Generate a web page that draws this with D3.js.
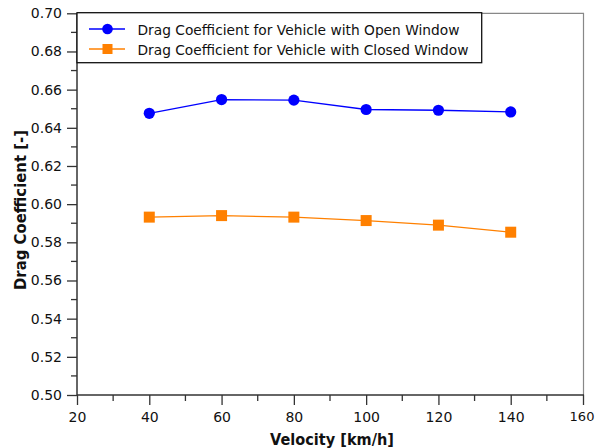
<!DOCTYPE html>
<html><head><meta charset="utf-8">
<script src="https://cdn.jsdelivr.net/npm/d3@7/dist/d3.min.js"></script>
<style>html,body{margin:0;padding:0;background:#fff;}svg{display:block;}</style>
</head><body>
<svg id="c" width="596" height="448"></svg>
<script>
const velocity = [40, 60, 80, 100, 120, 140];
const openWindow = [0.6476, 0.6548, 0.6545, 0.6496, 0.6492, 0.6483];
const closedWindow = [0.5932, 0.5940, 0.5932, 0.5914, 0.5890, 0.5853];
const seriesNames = ["Drag Coefficient for Vehicle with Open Window", "Drag Coefficient for Vehicle with Closed Window"];
const xTicks = [20, 40, 60, 80, 100, 120, 140, 160];
const yTicks = [0.50, 0.52, 0.54, 0.56, 0.58, 0.60, 0.62, 0.64, 0.66, 0.68, 0.70];
const xTitle = "Velocity [km/h]";
const yTitle = "Drag Coefficient [-]";

const L = 77, R = 583, T = 13.3, B = 395;
const svg = d3.select("#c");
const font = "'DejaVu Sans', Verdana, sans-serif";
const x = d3.scaleLinear().domain([20, 160]).range([L, R]);
const y = d3.scaleLinear().domain([0.50, 0.70]).range([B, T]);

// frame top/right
svg.append("path").attr("d", `M${L},${T}H${R+0.5}V${B}`).attr("fill", "none").attr("stroke", "#888").attr("stroke-width", 1.2);

// y axis
const yMinor = d3.range(0.51, 0.70, 0.02);
const gy = svg.append("g").attr("transform", `translate(${L},0)`);
gy.call(d3.axisLeft(y).tickValues(yTicks).tickFormat(d3.format(".2f")).tickSize(10).tickPadding(5));
gy.selectAll(".tick text").attr("font-size", 14).attr("font-family", font).attr("fill", "#111");
gy.select(".domain").attr("stroke", "#333").attr("stroke-width", 1.5).attr("d", `M0,${T}V${B}`);
gy.selectAll(".tick line").attr("stroke", "#333").attr("stroke-width", 1.3);
gy.selectAll(".minor").data(yMinor).enter().append("line").attr("class", "minor")
  .attr("x1", -6).attr("x2", 0).attr("y1", d => y(d)).attr("y2", d => y(d)).attr("stroke", "#333").attr("stroke-width", 1.3);

// x axis
const xMinor = d3.range(30, 160, 20);
const gx = svg.append("g").attr("transform", `translate(0,${B})`);
gx.call(d3.axisBottom(x).tickValues(xTicks).tickFormat(d3.format("d")).tickSize(10).tickPadding(7));
gx.selectAll(".tick text").attr("font-size", 14).attr("font-family", font).attr("fill", "#111");
gx.selectAll(".tick text").filter(d => d === 160).attr("font-size", 13).attr("dx", -1.5);
gx.select(".domain").attr("stroke", "#333").attr("stroke-width", 1.5).attr("d", `M${L},0H${R+1}`);
gx.selectAll(".tick line").attr("stroke", "#333").attr("stroke-width", 1.3);
gx.selectAll(".minor").data(xMinor).enter().append("line").attr("class", "minor")
  .attr("y1", 0).attr("y2", 6).attr("x1", d => x(d)).attr("x2", d => x(d)).attr("stroke", "#333").attr("stroke-width", 1.3);

// titles
svg.append("text").attr("x", 332).attr("y", 445).attr("text-anchor", "middle")
  .attr("font-family", font).attr("font-weight", "bold").attr("font-size", 15).attr("fill", "#111")
  .attr("textLength", 124).attr("lengthAdjust", "spacingAndGlyphs").text(xTitle);
svg.append("text").attr("transform", `translate(26,210) rotate(-90)`).attr("text-anchor", "middle")
  .attr("font-family", font).attr("font-weight", "bold").attr("font-size", 15).attr("fill", "#111")
  .attr("textLength", 160).attr("lengthAdjust", "spacingAndGlyphs").text(yTitle);

// lines
const line = d3.line().x((d, i) => x(velocity[i])).y(d => y(d));
const colors = ["#0000ff", "#ff8000"];
svg.append("path").datum(openWindow).attr("d", line).attr("fill", "none").attr("stroke", colors[0]).attr("stroke-width", 1.3);
svg.append("path").datum(closedWindow).attr("d", line).attr("fill", "none").attr("stroke", colors[1]).attr("stroke-width", 1.3);
svg.selectAll(".pt").data(openWindow).enter().append("circle")
  .attr("cx", (d, i) => x(velocity[i])).attr("cy", d => y(d)).attr("r", 5.6).attr("fill", colors[0]);
const s = 11;
svg.selectAll(".sq").data(closedWindow).enter().append("rect")
  .attr("x", (d, i) => x(velocity[i]) - s / 2).attr("y", d => y(d) - s / 2).attr("width", s).attr("height", s).attr("fill", colors[1]);

// legend
const lg = svg.append("g");
lg.append("rect").attr("x", L).attr("y", 12.7).attr("width", 481.7 - L).attr("height", 50).attr("fill", "#fff").attr("stroke", "#111").attr("stroke-width", 1.3);
const rows = [29, 49];
const legLen = [322, 331];
rows.forEach((ry, i) => {
  lg.append("line").attr("x1", 89).attr("x2", 125).attr("y1", ry).attr("y2", ry).attr("stroke", colors[i]).attr("stroke-width", 1.3);
  if (i === 0) lg.append("circle").attr("cx", 107.5).attr("cy", ry).attr("r", 5.3).attr("fill", colors[0]);
  else lg.append("rect").attr("x", 107.5 - 5).attr("y", ry - 5).attr("width", 10).attr("height", 10).attr("fill", colors[1]);
  lg.append("text").attr("x", 137.5).attr("y", ry + 5.5).attr("font-family", font).attr("font-size", 14.5).attr("fill", "#111")
    .attr("textLength", legLen[i]).attr("lengthAdjust", "spacingAndGlyphs").text(seriesNames[i]);
});
</script>
</body></html>
